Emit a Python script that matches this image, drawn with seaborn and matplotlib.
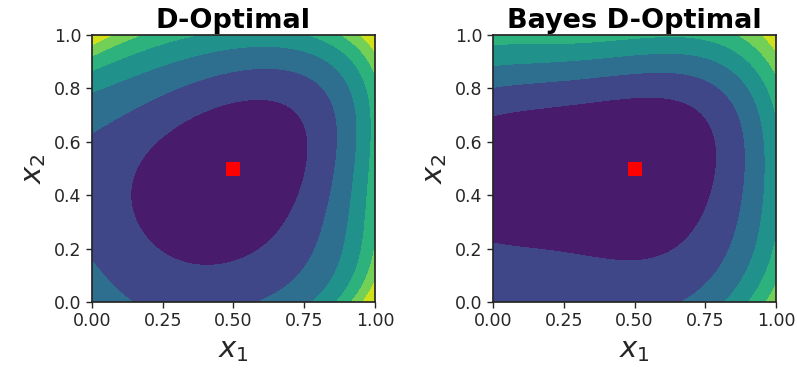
import numpy as np
import matplotlib
matplotlib.use("Agg")
import matplotlib.pyplot as plt
import seaborn as sns

# Criterion level readings (x1, x2, level) for each design.
dopt_x1 = [0.45, 0.563, 0.42, 0.28, 0.139, 0.127, 0.174, 0.292, 0.433, 0.598, 0.716, 0.769, 0.763, 0.716,
           0.0, 0.0, 0.07, 0.14, 0.106, 0.28, 0.563, 0.81, 0.858, 0.863, 0.834, 0.74, 0.62,
           0.0, 0.106, 0.186, 0.28, 0.563, 0.88, 0.926, 0.937, 0.893, 0.834, 0.757,
           0.0, 0.15, 0.34, 0.75, 0.918, 0.982, 0.947, 0.86,
           0.0, 0.09, 0.186, 0.89, 0.95, 1.0, 1.0, 0.96, 0.916,
           0.0, 0.064, 0.955, 0.975, 1.0, 1.0, 0.98, 0.963,
           0.0, 1.0, 1.0, 0.0, 1.0, 0.55]
dopt_x2 = [0.47, 0.782, 0.745, 0.669, 0.494, 0.438, 0.276, 0.176, 0.132, 0.176, 0.326, 0.494, 0.607, 0.732,
           0.64, 0.155, 0.075, 0.0, 0.719, 0.806, 0.875, 0.794, 0.644, 0.463, 0.263, 0.139, 0.0,
           0.765, 0.80, 0.824, 0.881, 0.937, 0.857, 0.644, 0.5, 0.263, 0.139, 0.0,
           0.87, 0.935, 1.0, 1.0, 0.886, 0.5, 0.2, 0.0,
           0.92, 0.965, 1.0, 1.0, 0.93, 0.86, 0.28, 0.14, 0.0,
           0.975, 1.0, 1.0, 0.975, 0.95, 0.06, 0.03, 0.0,
           1.0, 1.0, 0.0, 0.0, 0.55, 1.0]
dopt_level = [0.3] + [1] * 13 + [2] * 13 + [3] * 11 + [4] * 8 + [5] * 9 + [6] * 8 + \
             [7.4, 7.4, 7.8, 2.3, 4.4, 3.6]

bayes_x1 = [0.4, 0.0,
            0.0, 0.05, 0.163, 0.28, 0.516, 0.693, 0.787, 0.799, 0.74, 0.622, 0.48, 0.339, 0.163, 0.05, 0.0,
            0.0, 0.163, 0.28, 0.516, 0.74, 0.881, 0.904, 0.857, 0.763, 0.657,
            0.0, 0.163, 0.28, 0.516, 0.834, 0.952, 0.969, 0.928, 0.822,
            0.0, 0.163, 0.516, 0.881, 0.987, 1.0, 1.0, 0.905,
            0.858, 0.93, 1.0, 1.0, 0.982, 0.964,
            0.964, 0.982, 1.0,
            0.0, 0.0, 1.0, 1.0, 1.0, 0.5]
bayes_x2 = [0.47, 0.45,
            0.702, 0.703, 0.714, 0.75, 0.775, 0.732, 0.607, 0.488, 0.288, 0.176, 0.145, 0.164, 0.195, 0.2, 0.206,
            0.818, 0.83, 0.831, 0.863, 0.856, 0.644, 0.463, 0.288, 0.113, 0.0,
            0.893, 0.901, 0.9, 0.919, 0.856, 0.644, 0.463, 0.288, 0.0,
            0.955, 0.964, 0.981, 0.944, 0.769, 0.637, 0.199, 0.0,
            1.0, 0.93, 0.85, 0.064, 0.03, 0.0,
            1.0, 0.978, 0.955,
            0.0, 1.0, 1.0, 0.0, 0.42, 1.0]
bayes_level = [0.3, 0.5] + [1] * 15 + [2] * 10 + [3] * 9 + [4] * 8 + [5] * 6 + [6] * 3 + \
              [1.5, 4.3, 7.2, 5.7, 3.8, 4.1]

design_x1 = [0.5]
design_x2 = [0.5]

panel_titles = ["D-Optimal", "Bayes D-Optimal"]
contour_levels = np.arange(8)


def fit_surface(x1, x2, level, deg=6, ridge=1e-5, n=241):
    """Weighted least-squares polynomial surface through the level readings;
    readings near the domain corners carry more weight."""
    x1, x2, level = map(np.asarray, (x1, x2, level))
    corner_dist = np.minimum(np.hypot(x1 - np.round(x1), x2 - np.round(x2)), 1.0)
    wt = 1.0 + 4.0 * (corner_dist < 0.1)
    terms = [(i, j) for i in range(deg + 1) for j in range(deg + 1 - i)]
    A = np.column_stack([x1 ** i * x2 ** j for i, j in terms])
    Aw = A * wt[:, None]
    coef = np.linalg.solve(Aw.T @ A + ridge * np.eye(len(terms)), Aw.T @ level)
    g = np.linspace(0, 1, n)
    G1, G2 = np.meshgrid(g, g)
    Z = sum(c * G1 ** i * G2 ** j for c, (i, j) in zip(coef, terms))
    return G1, G2, Z


sns.set_theme(style="ticks")
plt.rcParams["font.family"] = ["DejaVu Sans"]

fig = plt.figure(figsize=(7.97, 3.77), dpi=100)
axes = [fig.add_axes([0.1154, 0.1989, 0.3551, 0.7082]),
        fig.add_axes([0.6186, 0.1989, 0.3551, 0.7082])]

readings = [(dopt_x1, dopt_x2, dopt_level), (bayes_x1, bayes_x2, bayes_level)]
for ax, (x1, x2, lv), title in zip(axes, readings, panel_titles):
    G1, G2, Z = fit_surface(x1, x2, lv)
    ax.contourf(G1, G2, np.clip(Z, 0.01, 6.99), levels=contour_levels, cmap="viridis")
    sns.scatterplot(x=design_x1, y=design_x2, marker="s", color="red", s=90,
                    linewidth=0, ax=ax, zorder=5)
    ax.set_xlim(0, 1)
    ax.set_ylim(0, 1)
    ax.set_xticks([0.0, 0.25, 0.5, 0.75, 1.0])
    ax.set_yticks([0.0, 0.2, 0.4, 0.6, 0.8, 1.0])
    ax.tick_params(labelsize=12.5, colors="0.15", length=4, width=1)
    for sp in ax.spines.values():
        sp.set_color("0.15")
    ax.set_xlabel(r"$x_1$", fontsize=21)
    ax.set_ylabel(r"$x_2$", fontsize=21)
    ax.set_title(title, fontsize=19.5, fontweight="bold", color="black", pad=5)

fig.savefig("out.png", dpi=100)
